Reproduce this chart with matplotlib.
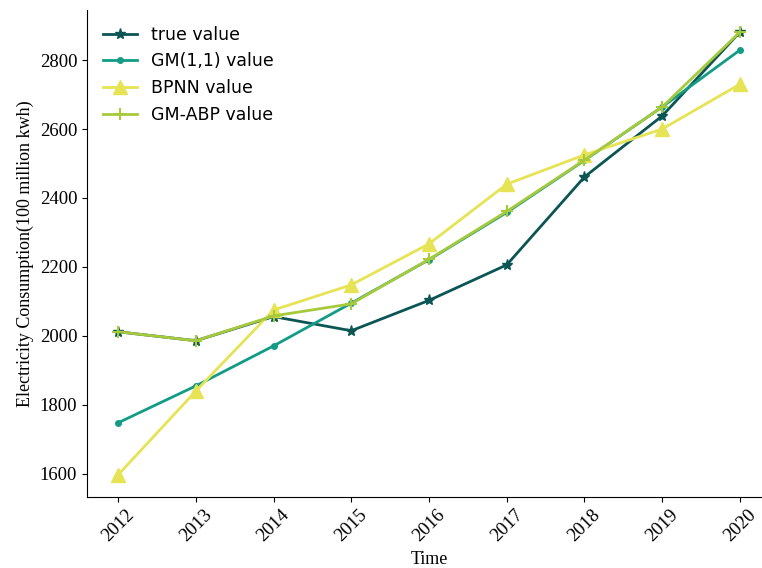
import matplotlib
import matplotlib.pyplot as plt

matplotlib.use("Agg")

years = [2012, 2013, 2014, 2015, 2016, 2017, 2018, 2019, 2020]
true_value = [2012, 1986, 2056, 2015, 2103, 2206, 2461, 2638, 2881]
gm_value = [1748, 1855, 1971, 2095, 2221, 2358, 2509, 2664, 2829]
bpnn_value = [1597, 1840, 2075, 2148, 2267, 2440, 2525, 2600, 2730]
gmabp_value = [2012, 1986, 2058, 2093, 2222, 2361, 2510, 2664, 2881]

SERIF = "Liberation Serif"

fig = plt.figure(figsize=(7.62, 5.68), dpi=100)
ax = fig.add_axes([87 / 762, 71 / 568, 684 / 762, 487 / 568])

ax.plot(years, true_value, color="#0b5654", marker="*", markersize=8, linewidth=2, label="true value")
ax.plot(years, gm_value, color="#129c86", marker="o", markersize=4, linewidth=2, label="GM(1,1) value")
ax.plot(years, bpnn_value, color="#e6e355", marker="^", markersize=10, linewidth=2, label="BPNN value")
ax.plot(years, gmabp_value, color="#a7c93c", marker="+", markersize=9, markeredgewidth=1.5, linewidth=2, label="GM-ABP value")

ax.spines["top"].set_visible(False)
ax.spines["right"].set_visible(False)
ax.set_xticks(years)
ax.set_xticklabels([str(y) for y in years], rotation=45, fontfamily=SERIF, fontsize=13.5)
ax.set_yticks([1600, 1800, 2000, 2200, 2400, 2600, 2800])
for lbl in ax.get_yticklabels():
    lbl.set_fontfamily(SERIF)
    lbl.set_fontsize(13.5)

ax.set_xlabel("Time", fontfamily=SERIF, fontsize=13)
ax.set_ylabel("Electricity Consumption(100 million kwh)", fontfamily=SERIF, fontsize=13)
ax.legend(loc="upper left", frameon=False, fontsize=12.5, bbox_to_anchor=(0.0, 1.0))

fig.savefig("out.png", dpi=100)
plt.close()
